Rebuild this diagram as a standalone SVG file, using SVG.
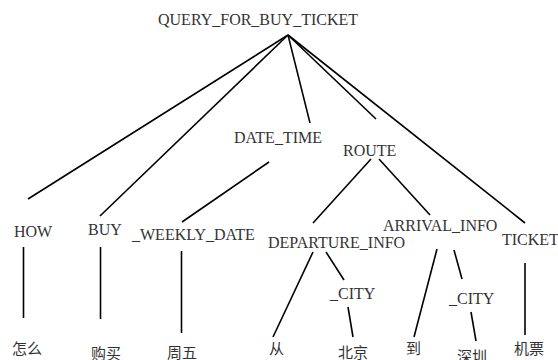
<svg xmlns="http://www.w3.org/2000/svg" width="558" height="360" viewBox="0 0 558 360">
<style>
.t{font-family:"Liberation Serif","Times New Roman",serif;font-size:16px;fill:#333}
.c{font-family:"Liberation Serif","Noto Sans CJK SC",serif;font-size:15px;fill:#333}
.e line{stroke:#000;stroke-width:1.6}
</style>
<rect width="558" height="360" fill="#fff"/>
<g id="connectors" class="e">
<line x1="288" y1="35" x2="28" y2="199"/>
<line x1="288" y1="35" x2="100" y2="216"/>
<line x1="288" y1="35" x2="310" y2="123"/>
<line x1="288" y1="35" x2="376" y2="119"/>
<line x1="288" y1="35" x2="525" y2="223"/>
<line x1="269" y1="162" x2="182" y2="222"/>
<line x1="371" y1="159" x2="313" y2="223"/>
<line x1="379" y1="159" x2="430" y2="215"/>
<line x1="23.5" y1="247" x2="23.5" y2="318"/>
<line x1="100.5" y1="247" x2="100.5" y2="319"/>
<line x1="181.5" y1="251" x2="181.5" y2="333"/>
<line x1="313" y1="252" x2="273" y2="337"/>
<line x1="326" y1="252" x2="344" y2="280"/>
<line x1="348" y1="307" x2="353" y2="337"/>
<line x1="437" y1="249" x2="414" y2="337"/>
<line x1="454" y1="250" x2="462" y2="279"/>
<line x1="471" y1="312" x2="476" y2="341"/>
<line x1="525" y1="263" x2="525" y2="335"/>
</g>
<g id="root"><text class="t" x="158" y="25">QUERY_FOR_BUY_TICKET</text></g>
<g id="how"><text class="t" x="14" y="237">HOW</text></g>
<g id="buy"><text class="t" x="88" y="235">BUY</text></g>
<g id="date_time"><text class="t" x="234" y="143">DATE_TIME</text></g>
<g id="route"><text class="t" x="343" y="156">ROUTE</text></g>
<g id="weekly_date"><text class="t" x="132" y="240">_WEEKLY_DATE</text></g>
<g id="departure_info"><text class="t" x="268" y="248">DEPARTURE_INFO</text></g>
<g id="arrival_info"><text class="t" x="383" y="231">ARRIVAL_INFO</text></g>
<g id="ticket"><text class="t" x="502" y="245">TICKET</text></g>
<g id="city_dep"><text class="t" x="330" y="299">_CITY</text></g>
<g id="city_arr"><text class="t" x="449" y="304">_CITY</text></g>
<g id="w_zenme"><text class="c" x="12" y="354">怎么</text></g>
<g id="w_goumai"><text class="c" x="91" y="359">购买</text></g>
<g id="w_zhouwu"><text class="c" x="167" y="358">周五</text></g>
<g id="w_cong"><text class="c" x="269" y="354">从</text></g>
<g id="w_beijing"><text class="c" x="338" y="358">北京</text></g>
<g id="w_dao"><text class="c" x="406" y="354">到</text></g>
<g id="w_shenzhen"><text class="c" x="457" y="362">深圳</text></g>
<g id="w_jipiao"><text class="c" x="514" y="354">机票</text></g>
</svg>
